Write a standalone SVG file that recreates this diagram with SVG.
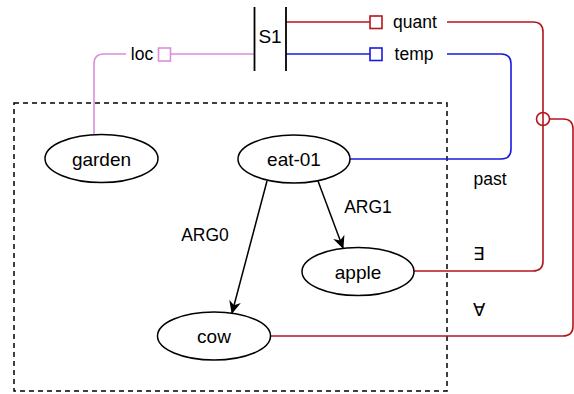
<svg xmlns="http://www.w3.org/2000/svg" width="574" height="394" viewBox="0 0 574 394">
<defs>
<style>
text{font-family:"Liberation Sans",Arial,sans-serif;font-size:19px;fill:#000;text-anchor:middle}
.lbl{font-size:17.5px}
.node{fill:#fff;stroke:#000;stroke-width:1.5}
.c{fill:none;stroke-width:1.6}
.red{stroke:#b5151b}
.blue{stroke:#1a1adb}
.pink{stroke:#dc8ddc}
</style>
<marker id="arr" viewBox="0 0 12 12" refX="11" refY="6" markerWidth="13" markerHeight="13" markerUnits="userSpaceOnUse" orient="auto">
<path d="M0,0.5 L12,6 L0,11.5 L3.5,6 Z" fill="#000"/>
</marker>
</defs>
<rect x="14" y="103" width="433" height="288" fill="none" stroke="#000" stroke-width="1.5" stroke-dasharray="5,4"/>
<g id="connectors">
<path class="c pink" d="M171,54 H254"/>
<path class="c pink" d="M126,54 H104 Q94,54 94,64 V134"/>
<path class="c red" d="M286,22 H370"/>
<path class="c blue" d="M286,54 H370"/>
<path class="c red" d="M447,22 H533 Q543,22 543,32 V261 Q543,271 533,271 H414"/>
<path class="c blue" d="M447,54 H501 Q511,54 511,64 V149 Q511,159 501,159 H350"/>
<circle cx="543" cy="119" r="6.5" fill="none" stroke="#b5151b" stroke-width="1.6"/>
<path class="c red" d="M549.5,119 H563 Q573,119 573,129 V326 Q573,336 563,336 H271"/>
<path d="M267,181 L232,313" stroke="#000" stroke-width="1.5" marker-end="url(#arr)"/>
<path d="M318,181 L343,248" stroke="#000" stroke-width="1.5" marker-end="url(#arr)"/>
<text class="lbl" x="205" y="241">ARG0</text>
<text class="lbl" x="368" y="213">ARG1</text>
<text class="lbl" x="142" y="60">loc</text>
<text class="lbl" x="415" y="28">quant</text>
<text class="lbl" x="414" y="60">temp</text>
<text class="lbl" x="490" y="185">past</text>
<text class="lbl" x="478" y="260">∃</text>
<text class="lbl" x="479" y="316">∀</text>
</g>
<g id="S1">
<line x1="254.5" y1="7" x2="254.5" y2="71" stroke="#000" stroke-width="1.8"/>
<line x1="286" y1="7" x2="286" y2="71" stroke="#000" stroke-width="1.8"/>
<text x="270" y="43">S1</text>
<rect x="158.5" y="48" width="12" height="13" fill="#fff" stroke="#dc8ddc" stroke-width="1.6"/>
<rect x="370" y="16" width="12" height="12.5" fill="#fff" stroke="#b5151b" stroke-width="1.6"/>
<rect x="370" y="48" width="12" height="12.5" fill="#fff" stroke="#1a1adb" stroke-width="1.6"/>
</g>
<g id="garden"><ellipse class="node" cx="101.5" cy="158.5" rx="56.5" ry="24"/><text x="101.5" y="165.5">garden</text></g>
<g id="eat-01"><ellipse class="node" cx="294" cy="159" rx="56" ry="24"/><text x="294" y="166">eat-01</text></g>
<g id="apple"><ellipse class="node" cx="358" cy="271.5" rx="56" ry="24"/><text x="358" y="278.5">apple</text></g>
<g id="cow"><ellipse class="node" cx="214" cy="336" rx="56.5" ry="24"/><text x="214" y="343">cow</text></g>
</svg>
